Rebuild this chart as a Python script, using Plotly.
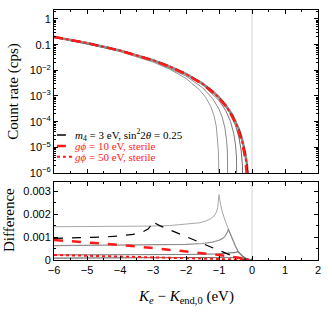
import plotly.graph_objects as go

# ---------------- DATA ----------------
# Top panel: count rate (cps)
x_ref = [-6, -5, -4, -3, -2.5, -2, -1.5, -1.2, -1, -0.8, -0.6, -0.5, -0.4, -0.3, -0.25, -0.2, -0.15, -0.12, -0.1, -0.05]
rate_ref = [0.201, 0.1161, 0.0593, 0.0249, 0.01434, 7.30e-3, 3.05e-3, 1.54e-3, 8.85e-4, 4.46e-4, 1.83e-4, 1.04e-4,
            5.16e-5, 2.06e-5, 1.14e-5, 5.48e-6, 2.07e-6, 9.4e-7, 4.8e-7, 2.5e-8]
rate_m4 = [0.201, 0.1161, 0.0593, 0.0249, 0.01434, 7.30e-3, 3.05e-3, 1.54e-3, 8.80e-4, 4.40e-4, 1.78e-4, 1.00e-4,
           4.95e-5, 1.97e-5, 1.09e-5, 5.2e-6, 1.95e-6, 8.9e-7, 4.5e-7, 2.3e-8]

x_g10 = [-6, -5, -4, -3, -2.5, -2, -1.5, -1.2, -1, -0.8, -0.6, -0.5, -0.4, -0.3, -0.25, -0.2, -0.16, -0.15, -0.1, -0.06]
rate_g10 = [0.200, 0.1152, 0.0585, 0.0244, 0.01397, 7.04e-3, 2.90e-3, 1.44e-3, 8.14e-4, 4.01e-4, 1.58e-4, 8.66e-5,
            4.07e-5, 1.48e-5, 7.6e-6, 3.2e-6, 1.26e-6, 9.5e-7, 1.2e-7, 1e-9]
rate_g50 = [0.201, 0.1158, 0.0589, 0.0247, 0.01415, 7.17e-3, 2.97e-3, 1.49e-3, 8.5e-4, 4.25e-4, 1.70e-4, 9.5e-5,
            4.6e-5, 1.75e-5, 9.3e-6, 4.2e-6, 1.9e-6, 1.5e-6, 2.5e-7, 1e-9]

x_m100 = [-6, -5, -4, -3, -2.5, -2, -1.6, -1.4, -1.25, -1.15, -1.08, -1.04, -1.02, -1.01, -1.0]
rate_m100 = [0.192, 0.109, 0.0538, 0.02095, 0.01114, 4.81e-3, 1.80e-3, 8.71e-4, 3.91e-4, 1.70e-4, 6.3e-5,
             2.16e-5, 7.5e-6, 2.6e-6, 1e-9]
x_m072 = [-6, -4, -3, -2, -1.5, -1.2, -1.0, -0.9, -0.82, -0.77, -0.745, -0.73, -0.72]
rate_m072 = [0.1957, 0.0564, 0.0229, 6.01e-3, 2.11e-3, 8.19e-4, 3.09e-4, 1.46e-4, 5.6e-5, 1.88e-5, 6.5e-6, 1.6e-6, 1e-9]
x_m044 = [-6, -4, -3, -2, -1.5, -1, -0.8, -0.65, -0.55, -0.5, -0.47, -0.455, -0.445, -0.44]
rate_m044 = [0.1984, 0.0582, 0.0242, 6.88e-3, 2.73e-3, 6.71e-4, 2.76e-4, 1.01e-4, 3.33e-5, 1.24e-5, 4.2e-6,
             1.44e-6, 2.7e-7, 1e-9]
x_m026 = [-6, -4, -3, -2, -1.5, -1, -0.7, -0.5, -0.4, -0.33, -0.29, -0.275, -0.265, -0.26]
rate_m026 = [0.1994, 0.0589, 0.0247, 7.22e-3, 2.99e-3, 8.34e-4, 2.54e-4, 7.2e-5, 2.6e-5, 7.8e-6, 2.0e-6,
             6.7e-7, 1.25e-7, 1e-9]

# Bottom panel: difference
xd_m100 = [-6, -5, -4, -3, -2.5, -2, -1.6, -1.4, -1.25, -1.15, -1.08, -1.04, -1.02, -1.0, -0.95, -0.9, -0.8,
           -0.72, -0.6, -0.5, -0.43, -0.3, -0.2, -0.1, 0]
d_m100 = [1.45e-3, 1.45e-3, 1.46e-3, 1.48e-3, 1.50e-3, 1.55e-3, 1.62e-3, 1.70e-3, 1.80e-3, 1.92e-3, 2.08e-3,
          2.28e-3, 2.48e-3, 2.85e-3, 2.40e-3, 2.10e-3, 1.65e-3, 1.35e-3, 0.92e-3, 0.60e-3, 0.40e-3, 0.18e-3,
          0.07e-3, 0.02e-3, 0.0]
xd_m072 = [-6, -4, -3, -2, -1.5, -1.2, -1.0, -0.9, -0.82, -0.77, -0.74, -0.72, -0.6, -0.5, -0.43, -0.3, -0.2,
           -0.1, 0]
d_m072 = [0.63e-3, 0.64e-3, 0.65e-3, 0.68e-3, 0.72e-3, 0.78e-3, 0.86e-3, 0.93e-3, 1.03e-3, 1.13e-3, 1.23e-3,
          1.35e-3, 0.92e-3, 0.60e-3, 0.40e-3, 0.18e-3, 0.07e-3, 0.02e-3, 0.0]
xd_m044 = [-6, -3, -2, -1, -0.7, -0.55, -0.48, -0.44, -0.3, -0.2, -0.1, 0]
d_m044 = [0.22e-3, 0.23e-3, 0.24e-3, 0.27e-3, 0.29e-3, 0.31e-3, 0.33e-3, 0.37e-3, 0.18e-3, 0.07e-3, 0.02e-3, 0.0]
xd_m026 = [-6, -3, -1, -0.5, -0.35, -0.29, -0.26, -0.2, -0.1, 0]
d_m026 = [0.08e-3, 0.085e-3, 0.09e-3, 0.10e-3, 0.11e-3, 0.12e-3, 0.14e-3, 0.07e-3, 0.02e-3, 0.0]

xd_m4 = [-6, -5, -4.5, -4, -3.6, -3.3, -3.15, -3.05, -3.0, -2.95, -2.8, -2.5, -2, -1.5, -1, -0.7, -0.5, -0.3, 0]
d_m4 = [0.94e-3, 0.97e-3, 1.00e-3, 1.05e-3, 1.12e-3, 1.23e-3, 1.35e-3, 1.52e-3, 1.70e-3, 1.62e-3, 1.50e-3,
        1.32e-3, 1.02e-3, 0.72e-3, 0.42e-3, 0.22e-3, 0.12e-3, 0.05e-3, 0.0]
xd_g = [-6, -5, -4, -3, -2, -1.5, -1, -0.5, -0.2, 0]
d_g10 = [0.87e-3, 0.78e-3, 0.66e-3, 0.52e-3, 0.38e-3, 0.30e-3, 0.22e-3, 0.12e-3, 0.05e-3, 0.0]
d_g50 = [0.22e-3, 0.19e-3, 0.16e-3, 0.12e-3, 0.09e-3, 0.075e-3, 0.06e-3, 0.035e-3, 0.015e-3, 0.0]

legend_labels = ["<i>m</i><sub>4</sub> = 3 eV, sin<sup>2</sup>2<i>θ</i> = 0.25",
                 "<i>gϕ</i> = 10 eV, sterile",
                 "<i>gϕ</i> = 50 eV, sterile"]
ytop_vals = [1, 0.1, 0.01, 0.001, 1e-4, 1e-5, 1e-6]
ytop_text = ["1", "0.1", "10<sup>−2</sup>", "10<sup>−3</sup>", "10<sup>−4</sup>", "10<sup>−5</sup>", "10<sup>−6</sup>"]
ybot_vals = [0, 0.001, 0.002, 0.003]
ybot_text = ["0", "0.001", "0.002", "0.003"]
x_ticks = [-6, -5, -4, -3, -2, -1, 0, 1, 2]
x_text = ["−6", "−5", "−4", "−3", "−2", "−1", "0", "1", "2"]

# ---------------- FIGURE ----------------
fig = go.Figure()
RED = "#ff1a1a"

def add(x, y, xa, ya, color, width, dash="solid"):
    fig.add_trace(go.Scatter(x=x, y=y, xaxis=xa, yaxis=ya, mode="lines",
                             line=dict(color=color, width=width, dash=dash), showlegend=False,
                             hoverinfo="skip"))

# top
add(x_m100, rate_m100, "x", "y", "#9a9a9a", 1)
add(x_m072, rate_m072, "x", "y", "#8a8a8a", 1)
add(x_m044, rate_m044, "x", "y", "#7a7a7a", 1)
add(x_m026, rate_m026, "x", "y", "#6a6a6a", 1)
add(x_ref, rate_ref, "x", "y", "#8c8c8c", 2.5)
add(x_ref, rate_m4, "x", "y", "black", 1.5, "dash")
add(x_g10, rate_g10, "x", "y", RED, 2.5, "dash")
add(x_g10, rate_g50, "x", "y", RED, 2, "dot")
# bottom
add(xd_m100, d_m100, "x2", "y2", "#a8a8a8", 1)
add(xd_m072, d_m072, "x2", "y2", "#909090", 1.2)
add(xd_m044, d_m044, "x2", "y2", "#808080", 1.2)
add(xd_m026, d_m026, "x2", "y2", "#707070", 1.2)
add(xd_m4, d_m4, "x2", "y2", "black", 1.2, "dash")
add(xd_g, d_g10, "x2", "y2", RED, 2.5, "dash")
add(xd_g, d_g50, "x2", "y2", RED, 2, "dot")

tickfont = dict(family="Liberation Sans, Arial", size=11, color="black")
axcommon = dict(showline=True, linecolor="black", linewidth=1, mirror="allticks", ticks="inside",
                showgrid=False, zeroline=False, tickfont=tickfont, tickcolor="black", automargin=False)

fig.update_layout(
    width=332, height=315, autosize=False,
    margin=dict(l=54, r=14, t=10, b=55, autoexpand=False),
    paper_bgcolor="white", plot_bgcolor="white",
    showlegend=False,
    xaxis=dict(domain=[0, 1], anchor="y", range=[-6, 2], tickvals=x_ticks, showticklabels=False,
               ticklen=4, minor=dict(ticks="inside", ticklen=2, dtick=0.5, tick0=0, tickcolor="black"),
               **axcommon),
    yaxis=dict(domain=[0.348, 1], anchor="x", type="log", range=[-6, 0.35],
               tickvals=ytop_vals, ticktext=ytop_text, ticklen=4,
               minor=dict(ticks="inside", ticklen=2, dtick="D1", tickcolor="black"), **axcommon),
    xaxis2=dict(domain=[0, 1], anchor="y2", range=[-6, 2], tickvals=x_ticks, ticktext=x_text,
                ticklen=4, minor=dict(ticks="inside", ticklen=2, dtick=0.5, tick0=0, tickcolor="black"),
                **axcommon),
    yaxis2=dict(domain=[0, 0.312], anchor="x2", range=[0, 0.0034], tickvals=ybot_vals, ticktext=ybot_text,
                ticklen=4, minor=dict(ticks="inside", ticklen=2, dtick=0.0005, tick0=0, tickcolor="black"),
                **axcommon),
)

# zero reference lines
for xr, yr in [("x", "y domain"), ("x2", "y2 domain")]:
    fig.add_shape(type="line", xref=xr, yref=yr, x0=0, x1=0, y0=0, y1=1,
                  line=dict(color="#e2e2e2", width=1.5), layer="below")

serif = "Liberation Serif, Times New Roman, serif"
# axis titles
fig.add_annotation(text="Count rate (cps)", xref="paper", yref="paper", x=-0.152, y=0.676,
                   xanchor="center", yanchor="middle",
                   textangle=-90, showarrow=False, font=dict(family=serif, size=15, color="black"))
fig.add_annotation(text="Difference", xref="paper", yref="paper", x=-0.172, y=0.158,
                   xanchor="center", yanchor="middle",
                   textangle=-90, showarrow=False, font=dict(family=serif, size=15, color="black"))
fig.add_annotation(text="<i>K<sub>e</sub></i> − <i>K</i><sub>end,0</sub> (eV)", xref="paper", yref="paper",
                   x=0.5, y=-0.148, xanchor="center", yanchor="middle", showarrow=False,
                   font=dict(family=serif, size=15, color="black"))

# manual legend
leg_styles = [("black", 1.5, "dash"), (RED, 2.5, "dash"), (RED, 2, "dot")]
leg_y = [0.5, 0.456, 0.413]
for lab, (c, w, d), yy in zip(legend_labels, leg_styles, leg_y):
    fig.add_shape(type="line", xref="paper", yref="paper", x0=0.011, x1=0.068, y0=yy, y1=yy,
                  line=dict(color=c, width=w, dash=d))
    fig.add_annotation(text=lab, xref="paper", yref="paper", x=0.072, y=yy, xanchor="left",
                       yanchor="middle", showarrow=False,
                       font=dict(family=serif, size=11, color=c))

fig.write_html("out.html", config={"displayModeBar": False},
               post_script="document.body.style.margin='0';document.body.style.overflow='hidden';")
